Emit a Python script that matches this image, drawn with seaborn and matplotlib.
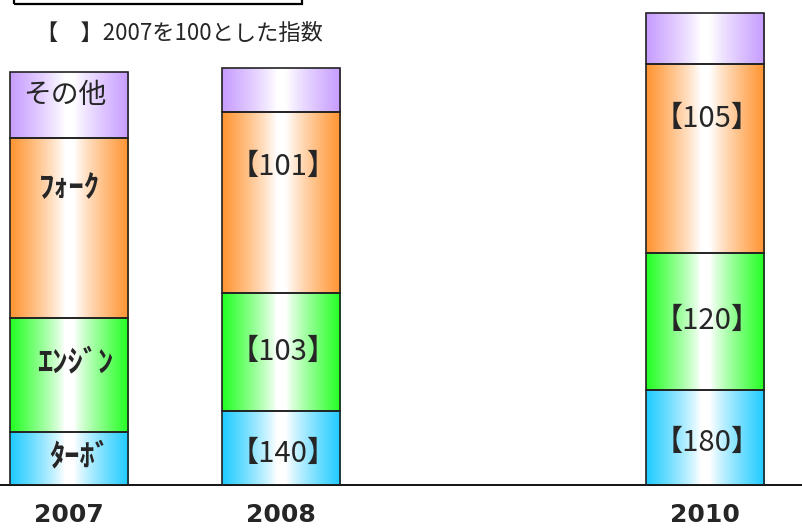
import numpy as np
import pandas as pd
import matplotlib
matplotlib.use("Agg")
import matplotlib.pyplot as plt
import seaborn as sns
from matplotlib.colors import to_rgb
from matplotlib.patches import Rectangle

# ---- data -------------------------------------------------------------
years = ["2007", "2008", "2009", "2010"]
bar_years = ["2007", "2008", "2010"]
segments = ["ﾀｰﾎﾞ", "ｴﾝｼﾞﾝ", "ﾌｫｰｸ", "その他"]
# size of each segment in 2007 (turbo, engine, fork, other)
base_2007 = [53, 114, 180, 66]
# index with 2007 = 100
turbo_index = [100, 140, 180]
engine_index = [100, 103, 120]
fork_index = [100, 101, 105]
# "other" segment size per year (no index given)
other_size = [66, 44, 51]
note_text = "【\u3000】2007を100とした指数"

# ---- styling ------------------------------------------------------------
seg_colors = ["#1ECBFF", "#22FF22", "#FF9430", "#C69CFF"]

sns.set_style("white")
plt.rcParams["font.family"] = ["Noto Sans CJK JP", "DejaVu Sans"]

# segment heights derived from the indices
turbo = [base_2007[0] * v / 100 for v in turbo_index]
engine = [base_2007[1] * v / 100 for v in engine_index]
fork = [base_2007[2] * v / 100 for v in fork_index]
other = list(other_size)
stack = [turbo, engine, fork, other]

rows = []
for s, seg in enumerate(segments):
    for i, yr in enumerate(bar_years):
        bottom = sum(stack[k][i] for k in range(s))
        rows.append({"year": yr, "segment": seg, "height": stack[s][i], "bottom": bottom})
df = pd.DataFrame(rows)

fig = plt.figure(figsize=(8.02, 5.32), dpi=100)
ax = fig.add_axes([0, 1 - 485 / 532, 1, 485 / 532])

bar_width = 0.557
for s, seg in enumerate(segments):
    sub = df[df["segment"] == seg]
    sns.barplot(data=sub, x="year", y="height", order=years,
                bottom=sub["bottom"].values, width=bar_width,
                color=seg_colors[s], saturation=1, errorbar=None, ax=ax,
                edgecolor="#222222", linewidth=1.2)

# horizontal gradient fill: coloured edges, white centre
n = 256
t = np.abs(np.linspace(0, 1, n) - 0.5) * 2
strength = np.clip((t - 0.08) / 0.92, 0, 1) ** 0.85
for patch in list(ax.patches):
    x0, y0 = patch.get_x(), patch.get_y()
    w, h = patch.get_width(), patch.get_height()
    if h <= 0:
        continue
    c = np.array(to_rgb(patch.get_facecolor()))
    grad = (1 - strength)[:, None] * np.ones(3) + strength[:, None] * c
    im = ax.imshow(grad[None, :, :], extent=[x0, x0 + w, y0, y0 + h],
                   aspect="auto", zorder=2, interpolation="bilinear")
    im.set_clip_path(patch)
    patch.set_facecolor("none")
    patch.set_zorder(3)

# segment names on the 2007 bar
pos = {yr: years.index(yr) for yr in bar_years}
name_sizes = [22, 22, 22, 20]
name_dx = [0.05, 0.03, 0.0, -0.02]
name_dy = [2, 13, None, 10]
for s, seg in enumerate(segments):
    b = sum(stack[k][0] for k in range(s))
    h = stack[s][0]
    if name_dy[s] is None:
        y = b + h - 50
    else:
        y = b + h / 2 + name_dy[s]
    ax.text(pos["2007"] + name_dx[s], y, seg, ha="center", va="center",
            fontsize=name_sizes[s], fontweight="bold" if s < 3 else "normal",
            zorder=5)

# index labels on later bars
indices = [turbo_index, engine_index, fork_index]
for i, yr in enumerate(bar_years):
    if i == 0:
        continue
    for s in range(3):
        b = sum(stack[k][i] for k in range(s))
        h = stack[s][i]
        if s == 2:
            y = b + h - 55
        elif s == 0:
            y = b + h / 2 - 6
        else:
            y = b + h / 2
        ax.text(pos[yr] + 0.01, y, f"【{indices[s][i]}】", ha="center",
                va="center", fontsize=21, zorder=5)

# axes styling
for side in ["left", "right", "top"]:
    ax.spines[side].set_visible(False)
ax.spines["bottom"].set_color("black")
ax.spines["bottom"].set_linewidth(1.3)
ax.set_yticks([])
ax.set_xticks(range(len(years)))
ax.set_xticklabels([y if y in bar_years else "" for y in years],
                   fontfamily="DejaVu Sans", fontweight="bold", fontsize=18)
ax.tick_params(axis="x", length=0, pad=13)
ax.set_xlabel("")
ax.set_ylabel("")
ax.set_xlim(-69 / 212, -69 / 212 + 802 / 212)
ax.set_ylim(0, 485)
ax.patch.set_alpha(0)

# note box at the top
fig.patches.append(Rectangle((14 / 802, 1 - 4 / 532), (302 - 14) / 802, 0.2,
                             transform=fig.transFigure, fill=False,
                             edgecolor="black", linewidth=1.6))
fig.text(36 / 802, 1 - 33 / 532, note_text, ha="left", va="center",
         fontsize=16)

fig.savefig("out.png", dpi=100)
